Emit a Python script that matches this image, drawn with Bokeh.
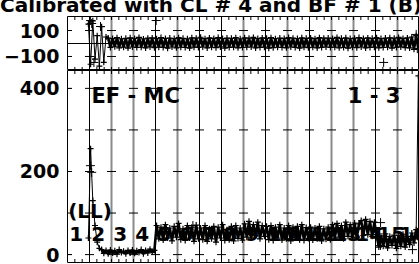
import numpy as np
from bokeh.plotting import figure
from bokeh.layouts import column
from bokeh.models import Range1d, FixedTicker, Span, Div
from bokeh.core.properties import value
from bokeh.embed import file_html
from bokeh.resources import INLINE

FONT = "DejaVu Sans"

# ---------------- data ----------------
title_text = "Calibrated with CL # 4 and BF # 1 (B)"
segment_labels = [str(i) for i in range(1, 17)]
# colour class of interval boundaries 1..15 (k = black, g = grey)
boundary_kind = ["k", "g", "g", "k", "g", "k", "k", "g", "k", "g", "k", "g", "g", "k", "g"]

x_start = 0.95
x_step = 0.1

top_vals = [150, -160, 175, -120, 60, -175, 130, -145, 50,
            42, -30, 38, -25, 45, -33, 36, -28, 40, -35, 44, -27, 39, -31, 47, -29, 35, -34, 41, -26,
            43, -32, 37, -28, 46, -30, 39, -36, 42, -27, 38, -33, 45, -29, 40, -31, 36, -35, 44, -28,
            41, -30, 48, -27, 37, -34, 43, -29, 39, -32, 46, -26, 38, -35, 42, -30, 40, -28, 45, -33,
            36, -31, 44, -29, 41, -27, 47, -34, 38, -30, 43, -28, 40, -36, 45, -32, 37, -29, 42, -31,
            39, -33, 46, -27, 41, -30, 38, -35, 44, -28, 40, -32, 43, -29, 37, -34, 45, -30, 41, -27,
            42, -31, 39, -28, 47, -33, 40, -30, 44, -36, 38, -29, 41, -32, 46, -27, 39, -34, 43, -30,
            40, -28, 45, -33, 38, -31, 42, -29, 44, -35, 41, -30, 47, -26, 39, -32, 43, -34, 50, -45, 60, -40]
top_burst_len = 9

bot_vals = [40, 255, 130, 70, 30, 15,
            12, 3, 10, 2, 11, 4, 9, 1, 12, 5, 8, 2, 10, 4, 11, 3, 9, 5, 12, 2, 10, 4, 13, 6, 10,
            70, 38, 66, 35, 72, 40, 64, 33, 68, 42, 75, 36, 62, 34, 70, 40, 66, 32, 71, 38,
            64, 36, 70, 32, 62, 38, 68, 30, 66, 40, 72, 34, 60, 36, 68, 33, 70, 39, 64, 35,
            74, 42, 80, 40, 72, 45, 78, 38, 70, 44,
            68, 36, 70, 34, 66, 40, 72, 35, 64, 38, 70, 33, 66, 41, 68, 36, 72, 34, 65, 39,
            66, 35, 64, 38, 68, 33, 62, 37, 66, 36,
            72, 40, 75, 42, 70, 38, 78, 44, 72, 40, 76, 42, 74,
            82, 46, 85, 48, 80, 44, 78,
            48, 18, 45, 20, 50, 16, 44, 22, 47, 15, 46, 20, 49, 18, 44, 24,
            52, 28, 60, 430]
bot_burst_len = 6

top_out_x = [1.05, 1.1, 1.5, 1.2, 4.03, 14.37, 15.85, 15.9]
top_out_y = [177, 154, 131, -146, 177, -146, 70, -40]
bot_out_x = [1.04, 1.1, 5.7, 14.23, 14.23, 15.68]
bot_out_y = [214, 198, 70, 77, 22, 12]

top_ticks = [-100, 100]
bot_ticks = [0, 200, 400]
bot_cross_ticks = [0, 100, 200, 300, 400]

# ---------------- helpers ----------------
X0, X1 = 0, 16
xr = Range1d(X0, X1)
xs_top = [x_start + x_step * i for i in range(len(top_vals))]
xs_bot = [x_start + x_step * i for i in range(len(bot_vals))]
bounds = list(range(1, 16))
minor_x = [k / 3 for k in range(1, 48)]


def make_fig(h, yr, b_top, b_bot, ticks):
    p = figure(width=419, height=h, x_range=xr, y_range=yr,
               output_backend="svg", toolbar_location=None,
               min_border_left=66, min_border_right=0,
               min_border_top=b_top, min_border_bottom=b_bot,
               x_axis_location=None)
    p.grid.visible = False
    p.outline_line_color = "black"
    p.outline_line_width = 1
    p.background_fill_color = "white"
    p.border_fill_color = "white"
    ax = p.yaxis[0]
    ax.ticker = FixedTicker(ticks=ticks, minor_ticks=[])
    ax.axis_line_color = None
    ax.major_tick_in = 4
    ax.major_tick_out = 0
    ax.major_tick_line_color = "black"
    ax.major_label_text_font = FONT
    ax.major_label_text_font_style = "bold"
    ax.major_label_text_font_size = "19px"
    ax.major_label_text_color = "black"
    ax.major_label_standoff = 8
    for i, b in enumerate(bounds):
        grey = boundary_kind[i] == "g"
        p.add_layout(Span(location=b, dimension="height",
                          line_color="#8a8a8a" if grey else "black",
                          line_width=2 if grey else 1, level="underlay"))
    # minor ticks on top / bottom frame edges
    p.scatter(minor_x, [yr.start] * len(minor_x), marker="dash", angle=np.pi / 2,
              size=7, line_color="black", line_width=1)
    p.scatter(minor_x, [yr.end] * len(minor_x), marker="dash", angle=np.pi / 2,
              size=7, line_color="black", line_width=1)
    return p


# title strip (the original title is cut by the picture's top and right edges)
head = Div(text=('<div style="font-family:\'DejaVu Sans\';font-weight:bold;font-size:20px;'
                 'line-height:10px;white-space:nowrap;color:black;margin-left:0px;">'
                 + title_text + '</div>'),
           width=419, height=16, margin=(0, 0, 0, 0),
           styles={"overflow": "hidden", "background-color": "white"})

top = make_fig(54, Range1d(-208, 208), 0, 0, top_ticks)
bot = make_fig(194, Range1d(-19, 443), 0, 2, bot_ticks)

# cross marks on boundary lines
cx_t = [b for b in [0] + bounds for _ in top_ticks]
cy_t = [t for _ in [0] + bounds for t in top_ticks]
top.scatter(cx_t, cy_t, marker="dash", size=9, line_color="black", line_width=1)
cx_b = [b for b in [0] + bounds for _ in bot_cross_ticks]
cy_b = [t for _ in [0] + bounds for t in bot_cross_ticks]
bot.scatter(cx_b, cy_b, marker="dash", size=9, line_color="black", line_width=1)

top.add_layout(Span(location=0, dimension="width", line_color="black", line_width=1))

# texts in the lower panel
bot.text(x=[b - 1 + 0.08 for b in range(1, 17)], y=[50] * 16, text=segment_labels,
         text_font=value(FONT), text_font_style="bold", text_font_size="20px",
         text_color="black", text_baseline="alphabetic", text_align="left")
bot.text(x=[0.03], y=[105], text=["(LL)"], text_font=value(FONT), text_font_style="bold",
         text_font_size="20px", text_color="black", text_baseline="alphabetic")
bot.text(x=[1.09, 12.74], y=[381, 381], text=["EF - MC", "1 - 3"], text_font=value(FONT),
         text_font_style="bold", text_font_size="21px", text_color="black",
         text_baseline="alphabetic")

# data: thin connecting line + crosses, dense band drawn heavier
top.line(xs_top, top_vals, line_color="black", line_width=1)
top.line(xs_top[top_burst_len - 1:], top_vals[top_burst_len - 1:], line_color="black", line_width=2.6)
top.scatter(xs_top, top_vals, marker="cross", size=6, line_color="black", line_width=1.2)
top.scatter(top_out_x, top_out_y, marker="cross", size=9, line_color="black")
bot.line(xs_bot, bot_vals, line_color="black", line_width=1)
bot.line(xs_bot[bot_burst_len:-1], bot_vals[bot_burst_len:-1], line_color="black", line_width=2.6)
bot.scatter(xs_bot, bot_vals, marker="cross", size=6, line_color="black", line_width=1.2)
bot.scatter(bot_out_x, bot_out_y, marker="cross", size=9, line_color="black")

layout = column(head, top, bot, spacing=0)

open("out.html", "w").write(file_html(layout, INLINE))
